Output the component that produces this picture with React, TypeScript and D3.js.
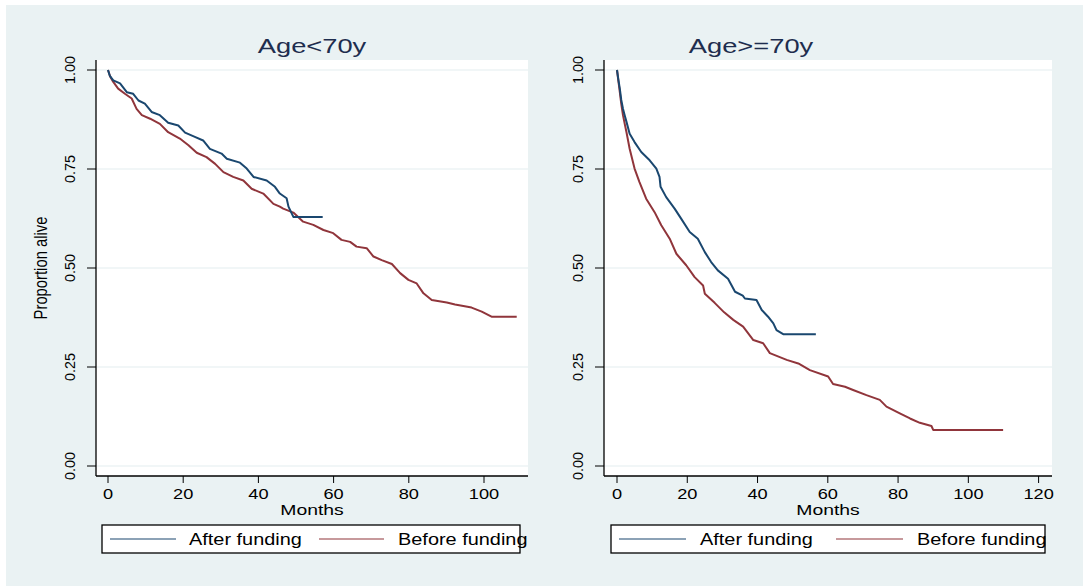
import * as d3 from "d3";

// Kaplan-Meier curves: [months, proportion alive]
const youngAfter: [number, number][] = [
  [0, 1.0], [0.5, 0.985], [1.4, 0.974], [3.2, 0.966], [5.0, 0.944], [6.7, 0.94],
  [8.1, 0.923], [9.8, 0.915], [11.6, 0.894], [13.8, 0.886], [16.0, 0.867],
  [18.7, 0.86], [20.5, 0.842], [23.1, 0.831], [25.3, 0.822], [27.1, 0.801],
  [30.2, 0.789], [31.6, 0.776], [35.1, 0.766], [36.9, 0.751], [38.7, 0.73],
  [42.2, 0.721], [44.4, 0.705], [45.7, 0.688], [47.5, 0.676], [48.0, 0.655],
  [49.3, 0.629], [57.1, 0.629],
];

const youngBefore: [number, number][] = [
  [0, 1.0], [0.6, 0.983], [1.4, 0.97], [2.7, 0.953], [4.5, 0.94], [6.3, 0.928],
  [7.6, 0.902], [9.0, 0.886], [11.2, 0.877], [13.8, 0.864], [16.0, 0.843],
  [19.1, 0.827], [21.4, 0.81], [23.6, 0.791], [26.2, 0.78], [28.5, 0.763],
  [30.7, 0.742], [33.3, 0.73], [36.0, 0.721], [38.2, 0.7], [41.3, 0.688],
  [44.0, 0.662], [45.7, 0.655], [46.6, 0.65], [49.3, 0.64], [51.9, 0.617],
  [54.6, 0.609], [57.3, 0.596], [59.9, 0.588], [62.1, 0.571], [64.4, 0.566],
  [66.1, 0.554], [68.8, 0.55], [70.6, 0.529], [72.8, 0.52], [75.5, 0.51],
  [77.7, 0.487], [79.9, 0.47], [82.1, 0.461], [83.9, 0.436], [86.1, 0.419],
  [90.1, 0.413], [92.3, 0.408], [96.7, 0.4], [99.4, 0.39], [102.0, 0.377],
  [108.7, 0.377],
];

const oldAfter: [number, number][] = [
  [0, 1.0], [0.4, 0.975], [0.8, 0.953], [1.2, 0.925], [1.7, 0.902], [2.2, 0.885],
  [2.7, 0.869], [3.6, 0.839], [5.0, 0.818], [6.9, 0.793], [9.3, 0.772],
  [11.2, 0.751], [12.1, 0.73], [12.4, 0.705], [14.0, 0.679], [16.4, 0.65],
  [18.3, 0.624], [20.7, 0.591], [23.0, 0.574], [25.0, 0.54], [26.8, 0.515],
  [28.7, 0.494], [31.6, 0.473], [33.6, 0.44], [35.8, 0.43], [36.4, 0.423],
  [39.7, 0.419], [41.2, 0.394], [43.0, 0.377], [44.5, 0.36], [45.4, 0.343],
  [47.3, 0.333], [56.6, 0.333],
];

const oldBefore: [number, number][] = [
  [0, 1.0], [0.4, 0.972], [0.8, 0.944], [1.2, 0.915], [1.7, 0.886], [2.2, 0.864],
  [2.7, 0.843], [3.6, 0.801], [5.0, 0.751], [6.4, 0.717], [8.3, 0.675],
  [10.7, 0.641], [12.6, 0.608], [15.0, 0.574], [16.9, 0.536], [19.7, 0.507],
  [22.1, 0.477], [24.5, 0.456], [25.0, 0.435], [27.8, 0.412], [30.5, 0.388],
  [33.1, 0.369], [35.9, 0.352], [38.8, 0.318], [41.6, 0.31], [43.5, 0.285],
  [48.3, 0.268], [51.6, 0.259], [54.9, 0.242], [60.1, 0.226], [61.5, 0.207],
  [64.9, 0.2], [67.2, 0.192], [71.0, 0.179], [74.8, 0.167], [76.7, 0.15],
  [80.5, 0.133], [83.4, 0.12], [86.2, 0.109], [89.5, 0.101], [90.0, 0.091],
  [109.9, 0.091],
];

const yTicks = [0, 0.25, 0.5, 0.75, 1];
const youngXTicks = [0, 20, 40, 60, 80, 100];
const oldXTicks = [0, 20, 40, 60, 80, 100, 120];
const seriesNames = ["After funding", "Before funding"];

const BLUE = "#1a476f";
const RED = "#90353b";
const BG = "#eaf2f3";
const FONT = "'Liberation Sans', Arial, sans-serif";
const SX = 1.3; // the original export is stretched horizontally

const W = 1083;
const H = 586;
const top = 60;
const bottom = 476;

type Legend = { l: number; r: number; blue: [number, number]; after: number; red: [number, number]; before: number };

type PanelProps = {
  title: string;
  titleX: number;
  left: number;
  right: number;
  x0: number; // pixel of month 0
  xMax: number;
  xMaxPx: number;
  xTicks: number[];
  after: [number, number][];
  before: [number, number][];
  yTitle?: string;
  legend: Legend;
};

function Panel(p: PanelProps) {
  const x = d3.scaleLinear().domain([0, p.xMax]).range([p.x0, p.xMaxPx]);
  const y = d3.scaleLinear().domain([0, 1]).range([466, 70]);
  const line = d3
    .line<[number, number]>()
    .x((d) => x(d[0]))
    .y((d) => y(d[1]));
  const midX = (p.left + p.right) / 2;
  const lgY = 539;
  const lg = p.legend;

  return (
    <g>
      <rect x={p.left} y={top} width={p.right - p.left} height={bottom - top} fill="#fff" />
      {yTicks.map((t) => (
        <line key={"g" + t} x1={p.left} x2={p.right} y1={y(t)} y2={y(t)} stroke="#e3edef" strokeWidth={1.2} />
      ))}
      <path d={line(p.before) || ""} fill="none" stroke={RED} strokeWidth={2} strokeLinejoin="round" />
      <path d={line(p.after) || ""} fill="none" stroke={BLUE} strokeWidth={2} strokeLinejoin="round" />

      {/* y axis */}
      <line x1={p.left} x2={p.left} y1={top} y2={bottom} stroke="#000" strokeWidth={1.3} />
      {yTicks.map((t) => (
        <g key={"y" + t}>
          <line x1={p.left - 9} x2={p.left} y1={y(t)} y2={y(t)} stroke="#000" strokeWidth={1} />
          <text
            transform={`translate(${p.left - 21},${y(t)}) rotate(-90)`}
            textAnchor="middle"
            fontSize={14.4}
            fontFamily={FONT}
            fill="#000"
          >
            {d3.format(".2f")(t)}
          </text>
        </g>
      ))}
      {p.yTitle && (
        <text
          transform={`translate(${p.left - 49.5},268) scale(1.25,1) rotate(-90)`}
          textAnchor="middle"
          fontSize={14.8}
          fontFamily={FONT}
          fill="#000"
        >
          {p.yTitle}
        </text>
      )}

      {/* x axis */}
      <line x1={p.left} x2={p.right} y1={bottom} y2={bottom} stroke="#000" strokeWidth={1.3} />
      {p.xTicks.map((t) => (
        <g key={"x" + t}>
          <line x1={x(t)} x2={x(t)} y1={bottom} y2={bottom + 7} stroke="#000" strokeWidth={1} />
          <text
            transform={`translate(${x(t)},499) scale(${SX},1)`}
            textAnchor="middle"
            fontSize={14}
            fontFamily={FONT}
            fill="#000"
          >
            {t}
          </text>
        </g>
      ))}
      <text
        transform={`translate(${midX},514.5) scale(1.25,1)`}
        textAnchor="middle"
        fontSize={15.5}
        fontFamily={FONT}
        fill="#000"
      >
        Months
      </text>

      {/* title */}
      <text
        transform={`translate(${p.titleX},53.3) scale(${SX},1)`}
        textAnchor="middle"
        fontSize={21}
        fontFamily={FONT}
        fill="#1e2d4e"
      >
        {p.title}
      </text>

      {/* legend */}
      <rect x={lg.l} y={525} width={lg.r - lg.l} height={28} fill="#fff" stroke="#000" strokeWidth={1.3} />
      <line x1={lg.blue[0]} x2={lg.blue[1]} y1={lgY} y2={lgY} stroke={BLUE} strokeWidth={1.2} />
      <text transform={`translate(${lg.after},${lgY + 6}) scale(1.26,1)`} fontSize={15.8} fontFamily={FONT} fill="#000">
        {seriesNames[0]}
      </text>
      <line x1={lg.red[0]} x2={lg.red[1]} y1={lgY} y2={lgY} stroke={RED} strokeWidth={1.2} />
      <text transform={`translate(${lg.before},${lgY + 6}) scale(1.26,1)`} fontSize={15.8} fontFamily={FONT} fill="#000">
        {seriesNames[1]}
      </text>
    </g>
  );
}

export default function App() {
  return (
    <svg width={W} height={H} style={{ position: "absolute", left: 0, top: 0, background: "#fff" }}>
      <rect x={6} y={5} width={W - 6} height={H - 5} fill={BG} />
      <Panel
        title="Age<70y"
        titleX={312}
        left={96}
        right={528}
        x0={108}
        xMax={100}
        xMaxPx={484}
        xTicks={youngXTicks}
        after={youngAfter}
        before={youngBefore}
        yTitle="Proportion alive"
        legend={{ l: 102, r: 520, blue: [110, 176], after: 189, red: [319, 384], before: 398 }}
      />
      <Panel
        title="Age>=70y"
        titleX={751}
        left={604}
        right={1052}
        x0={617}
        xMax={120}
        xMaxPx={1038.6}
        xTicks={oldXTicks}
        after={oldAfter}
        before={oldBefore}
        legend={{ l: 611, r: 1045, blue: [619, 686], after: 700, red: [836, 903], before: 917 }}
      />
    </svg>
  );
}
